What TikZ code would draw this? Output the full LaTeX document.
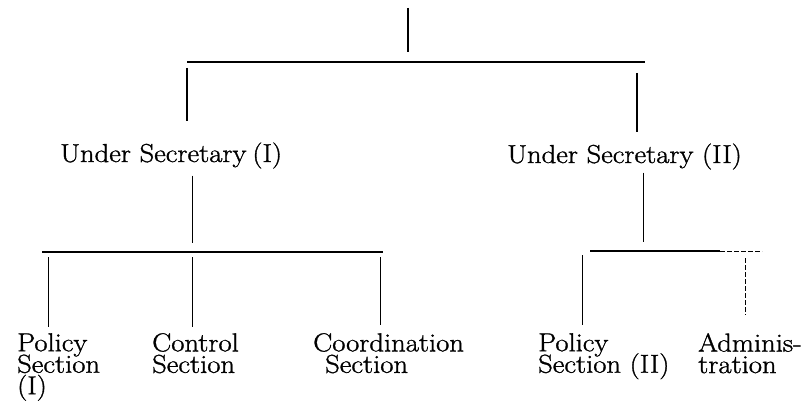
\documentclass[tikz,border=0pt]{standalone}
\usepackage{fontspec}
\newfontface\chartfont{Latin Modern Roman}[FakeBold=1.2, FakeStretch=1.1]
\usetikzlibrary{positioning,calc}
\newcommand{\tightlines}{\lineskiplimit=-20pt\relax}
\begin{document}
\begin{tikzpicture}[
    x=1pt, y=-1pt,
    head/.style={
        inner sep=0pt,
        anchor=base west,
        font=\chartfont\fontsize{26}{30}\selectfont
    },
    unit/.style={
        inner sep=0pt,
        align=left,
        anchor=north west,
        font=\chartfont\fontsize{26}{21.5}\selectfont\tightlines
    },
    bar/.style={line width=2.6pt},
    subbar/.style={line width=1.8pt},
    drop/.style={line width=1.5pt},
    link/.style={line width=1pt},
    broken/.style={line width=1pt, dash pattern=on 5pt off 2pt}
]
\useasboundingbox (0,0) rectangle (810,409);

\coordinate (top) at (408,8);
\coordinate (j0) at (408,62);
\coordinate (b0l) at (187,62);
\coordinate (b0r) at (645,62);
\coordinate (b0d) at (637,62);

\node[head] (usI) at (60,162) {Under Secretary\hspace{6pt}(I)};
\node[head] (usII) at (507,163) {Under Secretary (II)};

\coordinate (j1) at (192,252);
\coordinate (b1l) at (42,252);
\coordinate (b1r) at (383,252);
\coordinate (d1) at (48,252);
\coordinate (d2) at (192,252);
\coordinate (d3) at (380,252);

\coordinate (j2) at (643,251);
\coordinate (b2l) at (590,251);
\coordinate (b2m) at (720,251);
\coordinate (b2r) at (762,251);
\coordinate (d4) at (582,251);
\coordinate (d5) at (745,251);

\node[unit] (polI) at (17,333) {Policy\\Section\\(I)};
\node[unit] (ctrl) at (152,333) {Control\\Section};
\node[unit] (coord) at (313,333) {Coordination\\\hspace*{12pt}Section};
\node[unit] (polII) at (538,333) {Policy\\Section (II)};
\node[unit] (admin) at (698,333) {Adminis-\\tration};

\draw[drop] (top) -- ([yshift=10pt]j0);
\draw[bar] (b0l) -- (b0r);
\draw[drop, shorten <=6pt, shorten >=21pt] (b0l) -- (b0l |- usI.north);
\draw[drop, shorten <=11pt, shorten >=11pt] (b0d) -- (b0d |- usII.north);

\draw[link, shorten <=7pt, shorten >=9pt] (usI.south -| j1) -- (j1);
\draw[subbar] (b1l) -- (b1r);
\draw[link, shorten <=5pt, shorten >=6pt] (d1) -- (d1 |- polI.north);
\draw[link, shorten <=5pt, shorten >=6pt] (d2) -- (d2 |- ctrl.north);
\draw[link, shorten <=5pt, shorten >=8pt] (d3) -- (d3 |- coord.north);

\draw[link, shorten <=3pt, shorten >=9pt] (usII.south -| j2) -- (j2);
\draw[subbar] (b2l) -- (b2m);
\draw[broken] (b2m) -- (b2r);
\draw[link, shorten <=4pt, shorten >=8pt] (d4) -- (d4 |- polII.north);
\draw[broken, shorten <=7pt, shorten >=18pt] (d5) -- (d5 |- admin.north);

\end{tikzpicture}
\end{document}
